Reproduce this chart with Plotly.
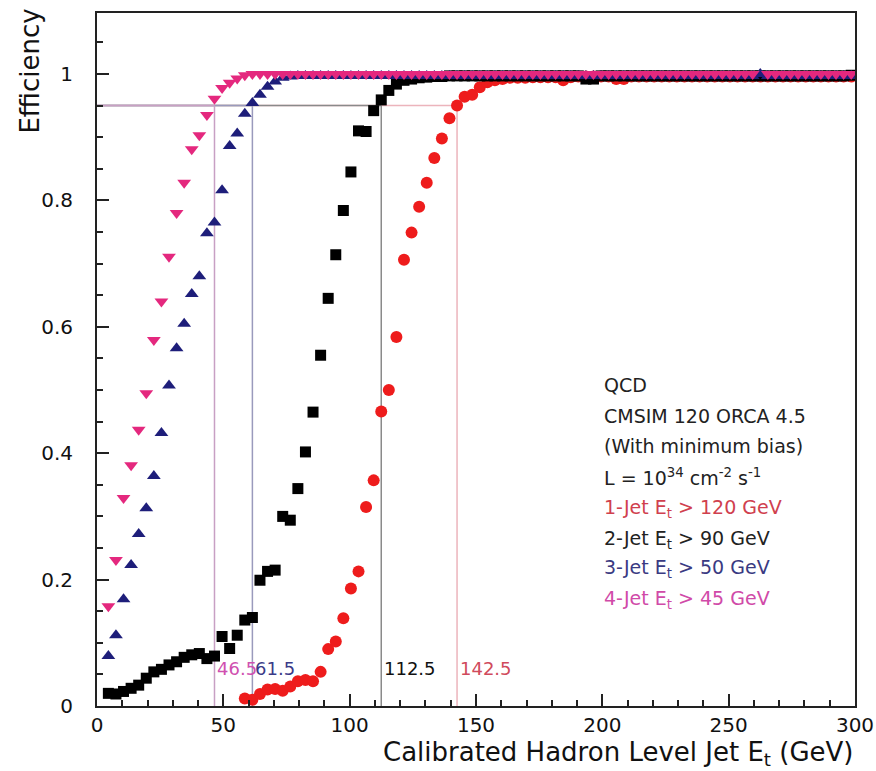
import plotly.graph_objects as go

# ---------------- data ----------------
E_BINS = [
    1.5, 4.5, 7.5, 10.5, 13.5, 16.5, 19.5, 22.5, 25.5, 28.5,
    31.5, 34.5, 37.5, 40.5, 43.5, 46.5, 49.5, 52.5, 55.5, 58.5,
    61.5, 64.5, 67.5, 70.5, 73.5, 76.5, 79.5, 82.5, 85.5, 88.5,
    91.5, 94.5, 97.5, 100.5, 103.5, 106.5, 109.5, 112.5, 115.5, 118.5,
    121.5, 124.5, 127.5, 130.5, 133.5, 136.5, 139.5, 142.5, 145.5, 148.5,
    151.5, 154.5, 157.5, 160.5, 163.5, 166.5, 169.5, 172.5, 175.5, 178.5,
    181.5, 184.5, 187.5, 190.5, 193.5, 196.5, 199.5, 202.5, 205.5, 208.5,
    211.5, 214.5, 217.5, 220.5, 223.5, 226.5, 229.5, 232.5, 235.5, 238.5,
    241.5, 244.5, 247.5, 250.5, 253.5, 256.5, 259.5, 262.5, 265.5, 268.5,
    271.5, 274.5, 277.5, 280.5, 283.5, 286.5, 289.5, 292.5, 295.5, 298.5,
]

EFF_1JET = [
    None, None, None, None, None, None, None, None, None, None,
    None, None, None, None, None, None, None, None, None, 0.012,
    0.010, 0.019, 0.026, 0.027, 0.024, 0.031, 0.039, 0.041, 0.039, 0.054,
    0.090, 0.102, 0.139, 0.186, 0.213, 0.315, 0.357, 0.466, 0.500, 0.584,
    0.706, 0.749, 0.790, 0.828, 0.867, 0.898, 0.930, 0.950, 0.964, 0.967,
    0.979, 0.987, 0.990, 0.992, 0.994, 0.994, 0.994, 0.995, 0.995, 0.995,
    0.995, 0.990, 0.995, 0.996, 0.996, 0.996, 0.996, 0.996, 0.992, 0.992,
    0.996, 0.996, 0.996, 0.996, 0.996, 0.996, 0.996, 0.996, 0.996, 0.996,
    0.996, 0.996, 0.996, 0.996, 0.996, 0.996, 0.996, 0.996, 0.996, 0.996,
    0.996, 0.996, 0.996, 0.996, 0.996, 0.996, 0.996, 0.996, 0.996, 0.996,
]

EFF_2JET = [
    None, 0.020, 0.019, 0.023, 0.028, 0.033, 0.044, 0.054, 0.058, 0.065,
    0.070, 0.077, 0.081, 0.083, 0.075, 0.079, 0.110, 0.091, 0.112, 0.136,
    0.140, 0.199, 0.213, 0.215, 0.300, 0.294, 0.344, 0.402, 0.465, 0.555,
    0.645, 0.714, 0.784, 0.845, 0.910, 0.909, 0.942, 0.959, 0.974, 0.984,
    0.990, 0.992, 0.994, 0.995, 0.996, 0.996, 0.997, 0.997, 0.997, 0.997,
    0.997, 0.997, 0.997, 0.997, 0.997, 0.997, 0.997, 0.997, 0.997, 0.997,
    0.997, 0.997, 0.997, 0.997, 0.992, 0.992, 0.997, 0.997, 0.997, 0.997,
    0.997, 0.997, 0.997, 0.997, 0.997, 0.997, 0.997, 0.997, 0.997, 0.997,
    0.997, 0.997, 0.997, 0.997, 0.997, 0.997, 0.997, 0.997, 0.997, 0.997,
    0.997, 0.997, 0.997, 0.997, 0.997, 0.997, 0.997, 0.997, 0.997, 0.998,
]

EFF_3JET = [
    None, 0.079, 0.112, 0.169, 0.223, 0.272, 0.313, 0.364, 0.432, 0.507,
    0.566, 0.605, 0.652, 0.680, 0.748, 0.765, 0.816, 0.886, 0.906, 0.937,
    0.954, 0.967, 0.980, 0.988, 0.994, 0.996, 0.997, 0.997, 0.997, 0.997,
    0.997, 0.997, 0.997, 0.997, 0.997, 0.997, 0.997, 0.997, 0.997, 0.997,
    0.997, 0.997, 0.997, 0.997, 0.997, 0.997, 0.997, 0.997, 0.997, 0.997,
    0.997, 0.997, 0.997, 0.997, 0.997, 0.997, 0.997, 0.997, 0.997, 0.997,
    0.997, 0.997, 0.997, 0.997, 0.997, 0.997, 0.997, 0.997, 0.997, 0.997,
    0.997, 0.997, 0.997, 0.997, 0.997, 0.997, 0.997, 0.997, 0.997, 0.997,
    0.997, 0.997, 0.997, 0.997, 0.997, 0.997, 0.997, 1.000, 0.997, 0.997,
    0.997, 0.997, 0.997, 0.997, 0.997, 0.997, 0.997, 0.997, 0.997, 0.997,
]

EFF_4JET = [
    None, 0.158, 0.231, 0.329, 0.381, 0.437, 0.495, 0.579, 0.640, 0.711,
    0.780, 0.828, 0.881, 0.903, 0.935, 0.961, 0.978, 0.986, 0.993, 0.998,
    1.000, 1.000, 1.000, 1.000, 1.000, 1.000, 1.000, 1.000, 1.000, 1.000,
    1.000, 1.000, 1.000, 1.000, 1.000, 1.000, 1.000, 1.000, 1.000, 1.000,
    1.000, 1.000, 1.000, 1.000, 1.000, 1.000, 1.000, 1.000, 1.000, 1.000,
    1.000, 1.000, 1.000, 1.000, 1.000, 1.000, 1.000, 1.000, 1.000, 1.000,
    1.000, 1.000, 1.000, 1.000, 1.000, 1.000, 1.000, 1.000, 1.000, 1.000,
    1.000, 1.000, 1.000, 1.000, 1.000, 1.000, 1.000, 1.000, 1.000, 1.000,
    1.000, 1.000, 1.000, 1.000, 1.000, 1.000, 1.000, None, 1.000, 1.000,
    1.000, 1.000, 1.000, 1.000, 1.000, 1.000, 1.000, 1.000, 1.000, 1.000,
]

# 95% efficiency points (GeV), drawn in order red, black, blue, magenta
THRESH_VALUES = [142.5, 112.5, 61.5, 46.5]
THRESH_LABELS = ["142.5", "112.5", "61.5", "46.5"]
THRESH_LEVEL = 0.95

LEGEND_LINES = [
    "QCD",
    "CMSIM 120 ORCA 4.5",
    "(With minimum bias)",
    "L = 10<sup>34</sup> cm<sup>-2</sup> s<sup>-1</sup>",
    "1-Jet E<sub>t</sub> > 120 GeV",
    "2-Jet E<sub>t</sub> > 90 GeV",
    "3-Jet E<sub>t</sub> > 50 GeV",
    "4-Jet E<sub>t</sub> > 45 GeV",
]
LEGEND_Y = [0.508, 0.459, 0.411, 0.362, 0.313, 0.264, 0.217, 0.168]

X_TICKS = [0, 50, 100, 150, 200, 250, 300]
Y_TICKS = [0, 0.2, 0.4, 0.6, 0.8, 1.0]
Y_TICKTEXT = ["0", "0.2", "0.4", "0.6", "0.8", "1"]

# ---------------- styles ----------------
FONT = "DejaVu Sans"
RED = "#ee1c1c"
BLACK = "#000000"
NAVY = "#1e1e7a"
MAGENTA = "#e4287e"
LINE_COLORS = ["#ecb4bc", "#8a8a8a", "#9a9abc", "#c8a0c4"]
LABEL_COLORS = ["#d04a5c", "#111111", "#3a3a88", "#d050b0"]
LEGEND_COLORS = ["#222222", "#222222", "#222222", "#222222",
                 "#d0404e", "#222222", "#3a3a82", "#d04aa8"]

fig = go.Figure()

series = [
    (EFF_1JET, "circle", RED, 12),
    (EFF_2JET, "square", BLACK, 11),
    (EFF_3JET, "triangle-up", NAVY, 12),
    (EFF_4JET, "triangle-down", MAGENTA, 12),
]
for vals, sym, col, size in series:
    fig.add_trace(go.Scatter(
        x=E_BINS, y=vals, mode="markers",
        marker=dict(symbol=sym, color=col, size=size, line=dict(width=0)),
        showlegend=False, hoverinfo="skip",
    ))

for t, lab, lc, tc in zip(THRESH_VALUES, THRESH_LABELS, LINE_COLORS, LABEL_COLORS):
    fig.add_shape(type="line", xref="x", yref="y", x0=t, x1=t, y0=0, y1=THRESH_LEVEL,
                  line=dict(color=lc, width=1.5), layer="below")
    fig.add_shape(type="line", xref="x", yref="y", x0=0, x1=t, y0=THRESH_LEVEL, y1=THRESH_LEVEL,
                  line=dict(color=lc, width=1.5), layer="below")
    fig.add_annotation(x=t, y=0.06, xref="x", yref="y", text=lab, showarrow=False,
                       xanchor="left", yanchor="middle", xshift=1,
                       font=dict(family=FONT, size=18, color=tc))

for txt, yy, col in zip(LEGEND_LINES, LEGEND_Y, LEGEND_COLORS):
    fig.add_annotation(x=200, y=yy, xref="x", yref="y", text=txt, showarrow=False,
                       xanchor="left", yanchor="middle",
                       font=dict(family=FONT, size=19, color=col))

# axis titles (ROOT style: aligned to the axis ends)
fig.add_annotation(x=1.0, y=-0.068, xref="paper", yref="paper",
                   text="Calibrated Hadron Level Jet E<sub>t</sub> (GeV)",
                   showarrow=False, xanchor="right", yanchor="middle",
                   font=dict(family=FONT, size=26, color="#111111"))
fig.add_annotation(x=-0.088, y=1.009, xref="paper", yref="paper",
                   text="Efficiency", textangle=-90,
                   showarrow=False, xanchor="center", yanchor="top",
                   font=dict(family=FONT, size=26, color="#111111"))

fig.update_xaxes(
    range=[0, 300], tickvals=X_TICKS, ticktext=[str(v) for v in X_TICKS],
    ticks="inside", ticklen=12, tickwidth=1.5, tickcolor="#222",
    minor=dict(dtick=10, tick0=0, ticks="inside", ticklen=6, tickwidth=1.5, tickcolor="#222"),
    showline=True, linecolor="#222", linewidth=2, mirror=True,
    showgrid=False, zeroline=False, automargin=False,
    tickfont=dict(family=FONT, size=20, color="#111"),
    ticklabelstandoff=0,
)
fig.update_yaxes(
    range=[0, 1.0965], tickvals=Y_TICKS, ticktext=Y_TICKTEXT,
    ticks="inside", ticklen=12, tickwidth=1.5, tickcolor="#222",
    minor=dict(dtick=0.05, tick0=0, ticks="inside", ticklen=6, tickwidth=1.5, tickcolor="#222"),
    showline=True, linecolor="#222", linewidth=2, mirror=True,
    showgrid=False, zeroline=False, automargin=False,
    tickfont=dict(family=FONT, size=20, color="#111"),
    ticklabelstandoff=18,
)

fig.update_layout(
    width=876, height=771,
    margin=dict(l=97, r=21, t=13, b=65),
    paper_bgcolor="white", plot_bgcolor="white",
    font=dict(family=FONT),
)

fig.write_html("out.html")
